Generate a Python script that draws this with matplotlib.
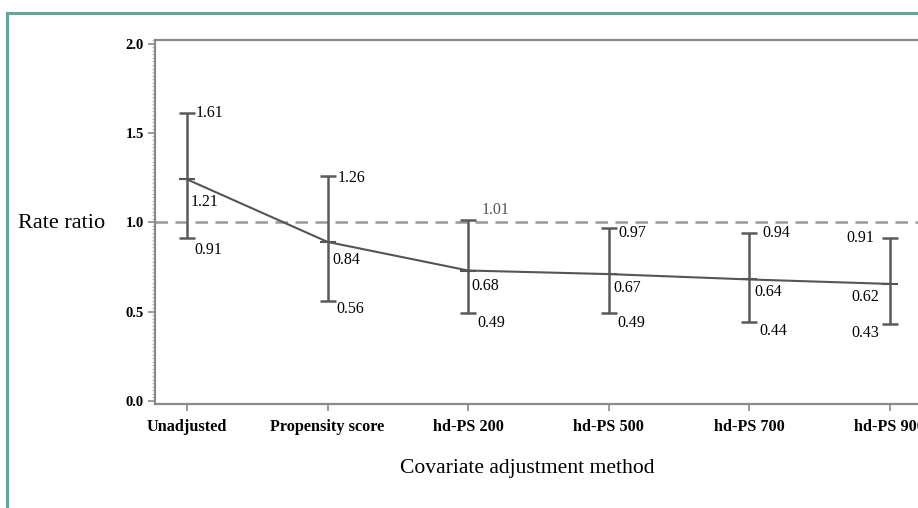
import matplotlib
matplotlib.use("Agg")
import matplotlib.pyplot as plt
from matplotlib.patches import Rectangle
from matplotlib.ticker import MultipleLocator

# ---- data ----
methods = ["Unadjusted", "Propensity score", "hd-PS 200", "hd-PS 500", "hd-PS 700", "hd-PS 900"]
estimate = [1.24, 0.89, 0.73, 0.71, 0.68, 0.655]      # plotted point positions
lower = [0.91, 0.56, 0.49, 0.49, 0.44, 0.43]
upper = [1.61, 1.26, 1.01, 0.97, 0.94, 0.91]
est_labels = ["1.21", "0.84", "0.68", "0.67", "0.64", "0.62"]
low_labels = ["0.91", "0.56", "0.49", "0.49", "0.44", "0.43"]
up_labels = ["1.61", "1.26", "1.01", "0.97", "0.94", "0.91"]
yticks = [0.0, 0.5, 1.0, 1.5, 2.0]

# ---- label layout (pixel offsets, alignment) ----
up_off = [(9, 0, "left"), (10, -2, "left"), (14, 10, "left"), (10, -5, "left"), (13, 0, "left"), (-15, 0, "right")]
est_off = [(4, -23, "left"), (5, -18, "left"), (3, -15, "left"), (5, -14, "left"), (5, -13, "left"), (-11, -13, "right")]
low_off = [(7, -12, "left"), (9, -8, "left"), (9, -10, "left"), (9, -10, "left"), (10, -9, "left"), (-11, -9, "right")]

plt.rcParams["font.family"] = ["Liberation Serif", "DejaVu Serif"]

W, H = 918, 508
fig = plt.figure(figsize=(W / 100, H / 100), dpi=100)

# teal frame
fig.patches.append(Rectangle((7 / W, -0.5), 1.5, 1 - 13 / H + 0.5, transform=fig.transFigure,
                             fill=False, edgecolor="#62a898", linewidth=2.2, zorder=0))

ax = fig.add_axes([155 / W, (H - 404) / H, (960 - 155) / W, (404 - 40) / H])
x = list(range(len(methods)))
ax.set_xlim(-0.228, 5.5)
ax.set_ylim(-0.017, 2.02)

ax.axhline(1.0, color="#999999", linestyle=(0, (5, 3)), linewidth=1.8, zorder=1)

ax.plot(x, estimate, color="#555555", linewidth=1.5, marker="_", markersize=12,
        markeredgewidth=1.5, zorder=3)
yerr = [[e - l for e, l in zip(estimate, lower)], [u - e for e, u in zip(estimate, upper)]]
ax.errorbar(x, estimate, yerr=yerr, fmt="none", ecolor="#5a5a5a", elinewidth=1.8,
            capsize=6, capthick=1.8, zorder=2)

def put(xi, yi, txt, off, color="black"):
    dx, dy, ha = off
    ax.annotate(txt, (xi, yi), xytext=(dx, dy), textcoords="offset pixels",
                ha=ha, va="center", fontsize=11.5, color=color)

for i in x:
    put(i, upper[i], up_labels[i], up_off[i], color="#555555" if i == 2 else "black")
    put(i, estimate[i], est_labels[i], est_off[i])
    put(i, lower[i], low_labels[i], low_off[i])

for s in ["left", "bottom", "top"]:
    ax.spines[s].set_color("#8a8a8a")
    ax.spines[s].set_linewidth(1.6)
ax.spines["right"].set_visible(False)

ax.set_xticks(x)
ax.set_xticklabels(methods, fontsize=11.7, fontweight="bold")
ax.set_yticks(yticks)
ax.set_yticklabels([f"{v:.1f}" for v in yticks], fontsize=10.5, fontweight="bold")
ax.yaxis.set_minor_locator(MultipleLocator(0.02))
ax.tick_params(axis="y", which="minor", length=2, width=0.8, color="#bbbbbb", direction="out")
ax.tick_params(axis="both", which="major", length=5, width=1.2, color="#8a8a8a", pad=3)
ax.tick_params(axis="x", which="major", pad=6)

fig.text(18 / W, 1 - 223 / H, "Rate ratio", fontsize=16, ha="left", va="center")
fig.text(527 / W, 1 - 469 / H, "Covariate adjustment method", fontsize=15.6, ha="center", va="center")

fig.savefig("out.png", dpi=100)
